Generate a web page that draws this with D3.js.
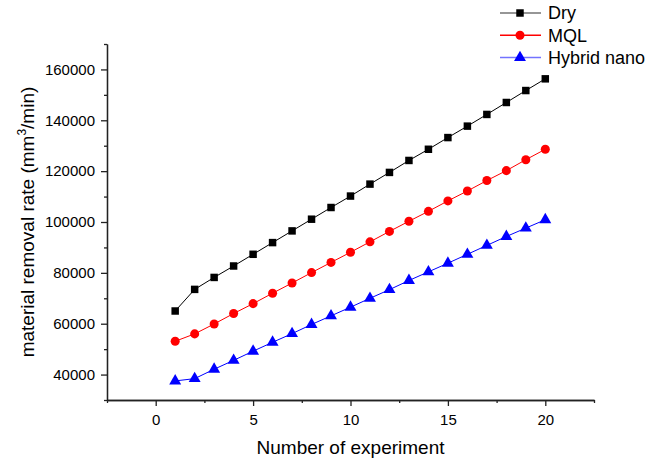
<!DOCTYPE html>
<html>
<head>
<meta charset="utf-8">
<script src="https://cdn.jsdelivr.net/npm/d3@7"></script>
<style>
  body { margin: 0; background: #fff; }
  svg { font-family: "Liberation Sans", Arial, sans-serif; }
</style>
</head>
<body>
<div id="vis"></div>
<script>
const width = 651;
const height = 461;

const experiments = d3.range(1, 21);
const dry = [65000, 73500, 78200, 82700, 87300, 91900, 96500, 101100, 105700, 110200,
	114900, 119500, 124200, 128600, 133200, 137700, 142300, 147000, 151700, 156300];
const mql = [53100, 56000, 59900, 64000, 67900, 72000, 76000, 80100, 84100, 88100,
	92200, 96300, 100300, 104200, 108300, 112200, 116300, 120200, 124500, 128600];
const hybrid = [37500, 38400, 42100, 45600, 49200, 52700, 56100, 59700, 63100, 66500,
	70000, 73400, 77000, 80400, 83800, 87300, 90800, 94300, 97600, 100900];

const seriesNames = ["Dry", "MQL", "Hybrid nano"];
const seriesColors = ["#000000", "#ff0000", "#0000ff"];
const seriesValues = [dry, mql, hybrid];
const yTicks = [40000, 60000, 80000, 100000, 120000, 140000, 160000];
const xTicks = [0, 5, 10, 15, 20];

const margin = {left: 107, right: 57, top: 44, bottom: 61};

const x = d3.scaleLinear()
	.domain([-2.5, 22.5])
	.range([margin.left, width - margin.right]);
const y = d3.scaleLinear()
	.domain([30000, 170000])
	.range([height - margin.bottom, margin.top]);

const svg = d3.select("#vis")
	.append("svg")
		.attr("width", width)
		.attr("height", height);

// axes: major ticks with labels, then minor ticks
const yAxis = svg.append("g")
	.attr("transform", `translate(${margin.left},0)`)
	.call(d3.axisLeft(y).tickValues(yTicks).tickSize(6).tickPadding(6).tickSizeOuter(0).tickFormat(d3.format("d")));
svg.append("g")
	.attr("transform", `translate(${margin.left},0)`)
	.call(d3.axisLeft(y).tickValues(d3.range(30000, 170001, 20000)).tickSize(3).tickSizeOuter(0).tickFormat(""));

const xAxis = svg.append("g")
	.attr("transform", `translate(0,${height - margin.bottom})`)
	.call(d3.axisBottom(x).tickValues(xTicks).tickSize(6).tickPadding(8).tickSizeOuter(0));
svg.append("g")
	.attr("transform", `translate(0,${height - margin.bottom})`)
	.call(d3.axisBottom(x).tickValues(d3.range(-2.5, 22.6, 5)).tickSize(3).tickSizeOuter(0).tickFormat(""));

svg.selectAll(".domain, .tick line")
	.attr("stroke", "#222")
	.attr("stroke-width", 1.3);
svg.selectAll(".tick text")
	.attr("font-size", 15)
	.attr("fill", "#000");

// axis titles
svg.append("text")
	.attr("x", (x.range()[0] + x.range()[1]) / 2)
	.attr("y", 454)
	.attr("text-anchor", "middle")
	.attr("font-size", 19)
	.text("Number of experiment");

const ytitle = svg.append("text")
	.attr("transform", `translate(34,${(y.range()[0] + y.range()[1]) / 2}) rotate(-90)`)
	.attr("text-anchor", "middle")
	.attr("font-size", 19);
ytitle.append("tspan").text("material removal rate (mm");
ytitle.append("tspan").attr("font-size", 12).attr("dy", -8).text("3");
ytitle.append("tspan").attr("dy", 8).text("/min)");

// series
const symbols = [d3.symbolSquare, d3.symbolCircle, d3.symbolTriangle];
const symbolSizes = [56, 64, 62];

seriesValues.forEach((vals, i) => {
	const pts = experiments.map((e, j) => [e, vals[j]]);
	svg.append("path")
		.datum(pts)
		.attr("fill", "none")
		.attr("stroke", seriesColors[i])
		.attr("stroke-width", 1)
		.attr("d", d3.line().x(d => x(d[0])).y(d => y(d[1])));
	svg.append("g")
		.selectAll("path")
		.data(pts)
		.enter()
		.append("path")
			.attr("transform", d => `translate(${x(d[0])},${y(d[1])})`)
			.attr("d", d3.symbol(symbols[i], symbolSizes[i]))
			.attr("fill", seriesColors[i]);
});

// legend
const legend = svg.append("g")
	.selectAll("g")
	.data(seriesNames)
	.enter()
	.append("g")
		.attr("transform", (d, i) => `translate(500,${13 + i * 22.3})`);
legend.append("line")
	.attr("x1", 0).attr("x2", 41)
	.attr("stroke", (d, i) => seriesColors[i])
	.attr("stroke-opacity", (d, i) => i === 1 ? 1 : 0.55)
	.attr("stroke-width", 1.5);
legend.append("path")
	.attr("transform", "translate(20,0)")
	.attr("d", (d, i) => d3.symbol(symbols[i], symbolSizes[i])())
	.attr("fill", (d, i) => seriesColors[i]);
legend.append("text")
	.attr("x", 48)
	.attr("dy", "0.35em")
	.attr("font-size", 18)
	.text(d => d);
</script>
</body>
</html>
